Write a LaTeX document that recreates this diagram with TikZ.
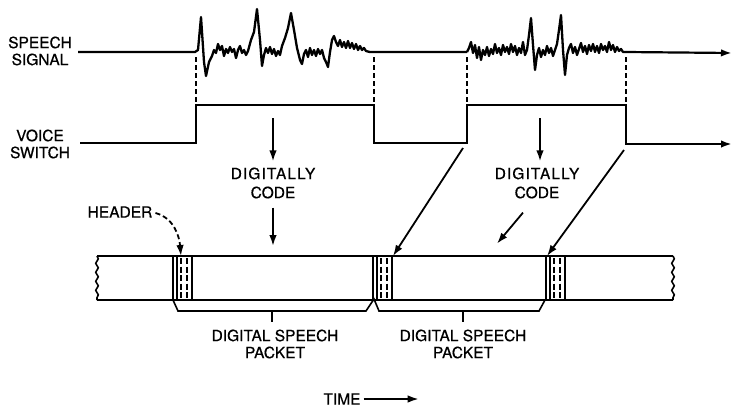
\documentclass[tikz,border=0pt]{standalone}
\usepackage{fontspec}
\setmainfont{TeX Gyre Heros}[FakeBold=0.6]
\usetikzlibrary{arrows.meta,decorations.pathmorphing}
\begin{document}
\begin{tikzpicture}[x=1pt, y=-1pt, >={Latex[length=11pt,width=7.5pt]},
		wire/.style={line width=2.2pt},
		sig/.style={line width=2.3pt, line join=round},
		guide/.style={line width=1.3pt, dash pattern=on 5pt off 3pt},
		strip/.style={line width=1.6pt},
		arr/.style={line width=1.8pt, ->},
		lbl/.style={align=center, inner sep=0pt, font=\fontsize{15.5}{17}\selectfont}]
				\useasboundingbox (0,0) rectangle (733,408);
				
				\node[lbl] (speech) at (40,51) {SPEECH\\SIGNAL};
				\node[lbl] (voice) at (40,144) {VOICE\\SWITCH};
				\node[lbl] (code1) at (273,183) {\addfontfeature{LetterSpace=7}DIGITALLY\\[2pt]CODE};
				\node[lbl] (code2) at (537,183) {\addfontfeature{LetterSpace=7}DIGITALLY\\[2pt]CODE};
				\node[lbl] (header) at (120,212) {HEADER};
				\node[lbl] (pkt1) at (275,344) {DIGITAL SPEECH\\PACKET};
				\node[lbl] (pkt2) at (463,344) {DIGITAL SPEECH\\PACKET};
				\node[lbl] (time) at (342,399) {TIME};
				
				\coordinate (up1) at (196,143);
				\coordinate (dn1) at (374,105);
				\coordinate (up2) at (467,143);
				\coordinate (dn2) at (626,105);
				\coordinate (h1) at (181,256);
				\coordinate (h2) at (393,256);
				\coordinate (h3) at (547,256);
				
				\draw[sig] (78,52) -- (195,52) -- (198,50) -- (201,17) -- (204,62) -- (206,76) -- (209,62) -- (212,56) -- (214,50) -- (216,53) -- (218,44) -- (220,50) -- (222,46) -- (224,56) -- (226,49) -- (228,53) -- (230,47) -- (232,52) -- (234,49) -- (236,58) -- (238,50) -- (240,46) -- (242,53) -- (244,50) -- (246,55) -- (248,51) -- (251,40) -- (254,32) -- (257,9) -- (260,40) -- (262,66) -- (264,55) -- (266,48) -- (268,53) -- (270,47) -- (272,54) -- (274,49) -- (276,56) -- (278,51) -- (280,55) -- (282,46) -- (285,38) -- (288,28) -- (291,13) -- (294,30) -- (297,48) -- (300,60) -- (302,64) -- (304,54) -- (306,50) -- (308,57) -- (310,48) -- (312,55) -- (314,50) -- (316,56) -- (318,49) -- (320,54) -- (322,50) -- (324,58) -- (326,62) -- (328,67) -- (330,52) -- (332,40) -- (334,36) -- (336,42) -- (338,46) -- (340,40) -- (342,47) -- (344,42) -- (346,48) -- (348,41) -- (350,48) -- (352,43) -- (354,49) -- (356,44) -- (358,50) -- (360,46) -- (362,50) -- (364,48) -- (366,51) -- (370,52) -- (467,52);
				\draw[sig] (467,52) -- (469,48) -- (471,42) -- (473,53) -- (475,45) -- (477,58) -- (479,47) -- (481,60) -- (483,50) -- (485,55) -- (487,47) -- (489,56) -- (491,49) -- (493,54) -- (495,44) -- (497,53) -- (499,48) -- (501,55) -- (503,45) -- (505,52) -- (507,47) -- (509,54) -- (511,44) -- (513,52) -- (515,46) -- (517,55) -- (519,48) -- (521,53) -- (523,42) -- (525,55) -- (527,50) -- (529,35) -- (531,18) -- (533,45) -- (535,70) -- (537,55) -- (539,48) -- (541,57) -- (543,50) -- (545,55) -- (547,46) -- (549,53) -- (551,48) -- (553,56) -- (555,50) -- (557,44) -- (559,30) -- (561,15) -- (563,50) -- (565,75) -- (567,55) -- (569,48) -- (571,44) -- (573,53) -- (575,47) -- (577,55) -- (579,49) -- (581,43) -- (583,52) -- (585,46) -- (587,54) -- (589,45) -- (591,51) -- (593,44) -- (595,52) -- (597,46) -- (599,53) -- (601,44) -- (603,50) -- (605,46) -- (607,52) -- (609,42) -- (611,50) -- (613,45) -- (615,52) -- (617,47) -- (619,51) -- (621,49) -- (623,52) -- (626,52);
				\draw[wire, ->] (626,52) -- (732,53);
				
				\draw[wire, ->] (80,143) -- (up1) -- (196,105) -- (dn1) -- (374,143) -- (up2) -- (467,105) -- (dn2) -- (626,144) -- (732,144);
				
				\draw[guide] (196,57) -- (196,103);
				\draw[guide] (374,57) -- (374,103);
				\draw[guide] (467,57) -- (467,103);
				\draw[guide] (626,57) -- (626,103);
				
				\draw[strip] (97,256) -- (673,256);
				\draw[strip] (97,300) -- (673,300);
				\draw[strip, decorate, decoration={snake, amplitude=1.3pt, segment length=9pt}] (97,256) -- (97,300);
				\draw[strip, decorate, decoration={snake, amplitude=1.3pt, segment length=9pt}] (673,256) -- (673,300);
				\foreach \hx in {173,373,546} {
					\draw[strip] (\hx,256) -- (\hx,300);
					\draw[strip] (\hx+4,256) -- (\hx+4,300);
					\draw[strip] (\hx+19,256) -- (\hx+19,300);
					\draw[strip, dash pattern=on 6pt off 2.5pt] (\hx+8,258) -- (\hx+8,300);
					\draw[strip, dash pattern=on 6pt off 2.5pt] (\hx+14,258) -- (\hx+14,300);
				}
				
				\draw[strip] (173,300) -- (178,311) -- (366,311) -- (374,299) -- (379,311) -- (539,311) -- (545,300);
				\draw[strip] (272,311) -- (272,322);
				\draw[strip] (463,311) -- (463,322);
				
				\draw[arr, shorten >=6pt] (273,118) -- (code1.north);
				\draw[arr, shorten <=9pt] (code1.south) -- (273,246);
				\draw[arr, shorten >=6pt] (540,118) -- ([xshift=3pt]code2.north);
				\draw[arr] (code2.south) ++(-14,14) -- ++(-26,31);
				\draw[arr] ([shift={(-4,5)}]up2) -- (h2);
				\draw[arr] ([shift={(-2,6)}]dn2 |- 0,144) -- (h3);
				\draw[arr, dash pattern=on 5pt off 3pt] (header.east) ++(3,1) to[out=-15, in=95] (h1);
				\draw[arr, shorten <=3pt] (time.east) -- ++(58,0);
			\end{tikzpicture}
\end{document}
